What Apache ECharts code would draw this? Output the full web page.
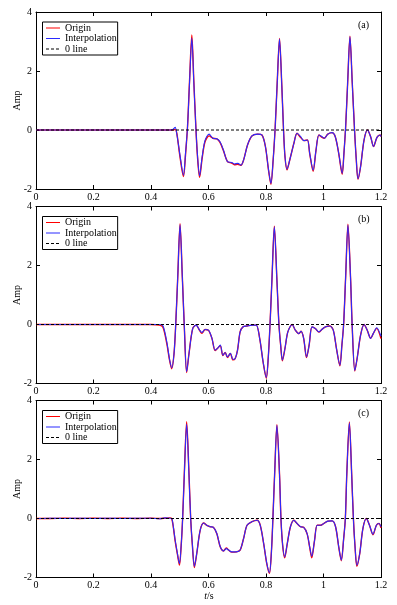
<!DOCTYPE html>
<html>
<head>
<meta charset="UTF-8">
<title>Origin vs Interpolation</title>
<script type="text/javascript" src="https://cdn.jsdelivr.net/npm/echarts@6/dist/echarts.min.js"></script>
<style>
  html, body { margin: 0; padding: 0; background: #fff; }
  #main { width: 397px; height: 605px; }
</style>
</head>
<body>
<div id="main"></div>
<script type="text/javascript">
// ---- data ----
var panelNames = ['(a)', '(b)', '(c)'];
var xTicks = [0, 0.2, 0.4, 0.6, 0.8, 1, 1.2];
var yTicks = [-2, 0, 2, 4];

var tA = [0, 0.1, 0.2, 0.3, 0.4, 0.45, 0.466, 0.476, 0.484, 0.49,
  0.5, 0.513, 0.52, 0.527, 0.534, 0.542, 0.549, 0.556, 0.562, 0.569,
  0.578, 0.588, 0.602, 0.615, 0.629, 0.64, 0.652, 0.666, 0.681, 0.69,
  0.702, 0.713, 0.722, 0.736, 0.751, 0.771, 0.786, 0.798, 0.809, 0.817,
  0.825, 0.832, 0.839, 0.847, 0.855, 0.861, 0.866, 0.873, 0.883, 0.897,
  0.908, 0.92, 0.932, 0.944, 0.952, 0.964, 0.974, 0.984, 0.995, 1.003,
  1.015, 1.03, 1.041, 1.053, 1.065, 1.071, 1.077, 1.084, 1.092, 1.1,
  1.108, 1.114, 1.12, 1.129, 1.141, 1.153, 1.164, 1.174, 1.186, 1.197,
  1.2];
var originA = [0, 0, 0, 0, 0, 0, 0, 0, 0.02, -0.12,
  -0.85, -1.58, -0.85, 0.1, 1.65, 3.22, 1.65, 0.1, -0.95, -1.6,
  -0.95, -0.4, -0.2, -0.28, -0.3, -0.42, -0.7, -1.07, -1.12, -1.18,
  -1.16, -1.2, -1.02, -0.5, -0.2, -0.14, -0.17, -0.56, -1.38, -1.84,
  -1.0, 0.1, 1.6, 3.1, 1.5, 0, -0.9, -1.35, -1.0, -0.45,
  -0.11, -0.25, -0.36, -0.34, -0.8, -1.4, -0.68, -0.17, -0.25, -0.28,
  -0.14, -0.09, -0.23, -0.8, -1.5, -0.8, 0.1, 1.6, 3.18, 1.6,
  0, -1.0, -1.67, -1.24, -0.34, 0, -0.23, -0.56, -0.25, -0.17,
  -0.22];
var interpA = [0, 0, 0, 0, 0, 0, 0, 0.02, 0.09, -0.15,
  -0.8, -1.53, -0.8, 0.1, 1.6, 3.12, 1.6, 0.1, -0.9, -1.55,
  -0.9, -0.35, -0.14, -0.28, -0.3, -0.4, -0.68, -1.07, -1.1, -1.15,
  -1.13, -1.19, -1.02, -0.5, -0.2, -0.14, -0.17, -0.56, -1.36, -1.81,
  -1.0, 0.1, 1.6, 3.08, 1.5, 0, -0.9, -1.33, -1.0, -0.45,
  -0.11, -0.22, -0.36, -0.34, -0.79, -1.36, -0.68, -0.17, -0.23, -0.28,
  -0.14, -0.09, -0.23, -0.79, -1.47, -0.8, 0.1, 1.6, 3.16, 1.6,
  0, -1.0, -1.65, -1.24, -0.34, 0, -0.23, -0.56, -0.25, -0.17,
  -0.22];

var tB = [0, 0.1, 0.2, 0.3, 0.4, 0.43, 0.442, 0.455, 0.464, 0.472,
  0.48, 0.486, 0.493, 0.501, 0.509, 0.516, 0.524, 0.532, 0.545, 0.557,
  0.569, 0.577, 0.588, 0.6, 0.612, 0.623, 0.631, 0.641, 0.65, 0.658,
  0.666, 0.676, 0.685, 0.693, 0.701, 0.71, 0.72, 0.734, 0.751, 0.766,
  0.778, 0.79, 0.801, 0.808, 0.814, 0.821, 0.829, 0.838, 0.845, 0.851,
  0.857, 0.866, 0.876, 0.891, 0.902, 0.914, 0.922, 0.931, 0.941, 0.95,
  0.96, 0.972, 0.984, 0.995, 1.007, 1.022, 1.034, 1.045, 1.057, 1.064,
  1.07, 1.077, 1.085, 1.094, 1.1, 1.109, 1.117, 1.129, 1.141, 1.152,
  1.164, 1.173, 1.185, 1.2];
var originB = [0, 0, 0, 0, 0, -0.02, -0.1, -0.65, -1.18, -1.5,
  -1.0, 0, 1.6, 3.42, 1.6, -0.1, -1.63, -1.0, -0.14, -0.02,
  -0.2, -0.3, -0.17, -0.2, -0.47, -0.88, -0.81, -0.72, -1.05, -0.95,
  -1.12, -0.98, -1.2, -1.15, -0.87, -0.25, -0.08, -0.05, -0.02, -0.02,
  -0.47, -1.28, -1.82, -1.1, 0, 1.6, 3.33, 1.5, 0, -0.7,
  -1.23, -0.81, -0.25, 0, -0.19, -0.31, -0.23, -0.47, -1.12, -0.7,
  -0.08, -0.14, -0.26, -0.16, -0.08, -0.05, -0.19, -0.81, -1.4, -0.7,
  0, 1.6, 3.4, 1.6, -0.1, -1.58, -1.15, -0.36, 0, -0.19,
  -0.47, -0.31, -0.13, -0.48];
var interpB = [0, 0, 0, 0, 0, 0, -0.05, -0.59, -1.15, -1.47,
  -1.0, 0, 1.6, 3.38, 1.6, -0.1, -1.6, -1.0, -0.14, -0.02,
  -0.19, -0.27, -0.17, -0.19, -0.47, -0.87, -0.81, -0.7, -1.04, -0.95,
  -1.1, -0.98, -1.18, -1.15, -0.87, -0.25, -0.08, -0.05, -0.02, -0.02,
  -0.47, -1.27, -1.8, -1.1, 0, 1.6, 3.31, 1.5, 0, -0.7,
  -1.21, -0.81, -0.25, 0, -0.19, -0.31, -0.23, -0.47, -1.1, -0.7,
  -0.08, -0.14, -0.25, -0.16, -0.08, -0.05, -0.19, -0.81, -1.38, -0.7,
  0, 1.6, 3.37, 1.6, -0.1, -1.56, -1.15, -0.36, 0, -0.19,
  -0.47, -0.31, -0.11, -0.4];

var tC = [0, 0.05, 0.1, 0.15, 0.2, 0.25, 0.3, 0.35, 0.4, 0.43,
  0.45, 0.465, 0.472, 0.478, 0.484, 0.492, 0.499, 0.505, 0.51, 0.516,
  0.524, 0.532, 0.538, 0.544, 0.551, 0.559, 0.571, 0.583, 0.594, 0.606,
  0.617, 0.629, 0.641, 0.652, 0.662, 0.67, 0.681, 0.697, 0.71, 0.722,
  0.734, 0.751, 0.769, 0.78, 0.792, 0.803, 0.812, 0.819, 0.824, 0.83,
  0.838, 0.847, 0.852, 0.858, 0.865, 0.874, 0.885, 0.897, 0.908, 0.92,
  0.931, 0.943, 0.952, 0.959, 0.969, 0.978, 0.99, 1.001, 1.015, 1.03,
  1.042, 1.053, 1.062, 1.07, 1.076, 1.081, 1.09, 1.098, 1.104, 1.11,
  1.116, 1.126, 1.137, 1.149, 1.16, 1.172, 1.184, 1.193, 1.2];
var originC = [0, 0, 0.01, 0, 0.01, 0, 0.01, 0, 0.01, 0,
  0.01, 0.02, 0, -0.32, -0.76, -1.22, -1.58, -0.92, 0, 1.55,
  3.28, 1.55, 0, -0.92, -1.66, -1.2, -0.4, -0.15, -0.23, -0.28,
  -0.3, -0.52, -0.97, -1.1, -1.0, -1.07, -1.14, -1.13, -1.07, -0.68,
  -0.23, -0.11, -0.06, -0.23, -0.86, -1.55, -1.86, -1.1, 0, 1.5,
  3.18, 1.5, 0, -0.92, -1.33, -0.85, -0.28, -0.06, -0.17, -0.28,
  -0.3, -0.52, -0.98, -1.33, -0.73, -0.23, -0.23, -0.17, -0.09, -0.08,
  -0.28, -0.97, -1.43, -0.7, 0, 1.5, 3.27, 1.5, 0, -1.0,
  -1.62, -1.19, -0.34, 0, -0.23, -0.55, -0.23, -0.17, -0.32];
var interpC = [0, 0.01, 0, 0.01, 0, 0.01, 0, 0.01, 0.01, -0.01,
  0.02, 0.01, 0, -0.3, -0.73, -1.19, -1.53, -0.9, 0, 1.5,
  3.2, 1.5, 0, -0.9, -1.62, -1.19, -0.4, -0.15, -0.23, -0.28,
  -0.3, -0.51, -0.96, -1.1, -1.02, -1.07, -1.13, -1.13, -1.07, -0.68,
  -0.23, -0.11, -0.06, -0.23, -0.85, -1.53, -1.83, -1.1, 0, 1.5,
  3.16, 1.5, 0, -0.9, -1.3, -0.85, -0.28, -0.06, -0.17, -0.28,
  -0.3, -0.51, -0.96, -1.28, -0.73, -0.23, -0.23, -0.17, -0.09, -0.08,
  -0.28, -0.96, -1.41, -0.7, 0, 1.5, 3.24, 1.5, 0, -1.0,
  -1.58, -1.19, -0.34, 0, -0.23, -0.53, -0.23, -0.17, -0.28];

var zeroLine = [[0, 0], [1.2, 0]];

// ---- layout ----
var FONT = '"Liberation Serif", "Times New Roman", serif';
var gridTops = [12, 206.5, 400.5];
var gridH = 177, gridLeft = 36, gridW = 345;

function zip(t, v) {
  var out = [];
  for (var i = 0; i < t.length; i++) out.push([t[i], v[i]]);
  return out;
}
function tickLabel(v) {
  return String(Math.round(v * 10) / 10);
}

var grids = [], xAxes = [], yAxes = [], legends = [], series = [], graphics = [];
var panels = [[tA, originA, interpA], [tB, originB, interpB], [tC, originC, interpC]];

for (var i = 0; i < 3; i++) {
  grids.push({ left: gridLeft, top: gridTops[i], width: gridW, height: gridH });
  var axisBase = {
    gridIndex: i, type: 'value',
    axisLine: { show: true, onZero: false, lineStyle: { color: '#000', width: 1 } },
    axisTick: { show: true, inside: true, length: 4, lineStyle: { color: '#000' } },
    splitLine: { show: false }
  };
  xAxes.push(Object.assign({}, axisBase, {
    position: 'bottom', min: xTicks[0], max: xTicks[xTicks.length - 1], interval: 0.2,
    axisLabel: { color: '#000', fontFamily: FONT, fontSize: 10, margin: 3, formatter: tickLabel,
      showMinLabel: true, showMaxLabel: true }
  }));
  xAxes.push(Object.assign({}, axisBase, {
    position: 'top', min: xTicks[0], max: xTicks[xTicks.length - 1], interval: 0.2,
    axisLabel: { show: false }
  }));
  yAxes.push(Object.assign({}, axisBase, {
    position: 'left', min: yTicks[0], max: yTicks[yTicks.length - 1], interval: 2,
    axisLabel: { color: '#000', fontFamily: FONT, fontSize: 10, margin: 4 }
  }));
  yAxes.push(Object.assign({}, axisBase, {
    position: 'right', min: yTicks[0], max: yTicks[yTicks.length - 1], interval: 2,
    axisLabel: { show: false }
  }));

  legends.push({
    orient: 'vertical', left: 42.5, top: gridTops[i] + 10,
    data: ['Origin', 'Interpolation', '0 line'],
    itemWidth: 14, itemHeight: 10, itemGap: 0.5, itemStyle: { opacity: 0 },
    lineStyle: { width: 1 },
    padding: [1, 1, 1, 3],
    borderColor: '#000', borderWidth: 1, backgroundColor: '#fff',
    textStyle: { color: '#000', fontFamily: FONT, fontSize: 10 },
    selectedMode: false
  });

  var p = panels[i];
  series.push({
    name: 'Origin', type: 'line', xAxisIndex: 2 * i, yAxisIndex: 2 * i,
    data: zip(p[0], p[1]), smooth: 0.3, symbol: 'none',
    lineStyle: { color: '#ff0000', width: 1.4 }, itemStyle: { color: '#ff0000' }, z: 2
  });
  series.push({
    name: 'Interpolation', type: 'line', xAxisIndex: 2 * i, yAxisIndex: 2 * i,
    data: zip(p[0], p[2]), smooth: 0.3, symbol: 'none',
    lineStyle: { color: '#2a2aff', width: 1.1 }, itemStyle: { color: '#2a2aff' }, z: 3
  });
  series.push({
    name: '0 line', type: 'line', xAxisIndex: 2 * i, yAxisIndex: 2 * i,
    data: zeroLine, symbol: 'none',
    lineStyle: { color: '#000', width: 1, type: [3, 2] }, itemStyle: { color: '#000' }, z: 4
  });

  graphics.push({
    type: 'text', left: 358, top: gridTops[i] + 8,
    style: { text: panelNames[i], fill: '#000', font: '10px ' + FONT }
  });
  graphics.push({
    type: 'text', x: 17, y: gridTops[i] + gridH / 2, rotation: Math.PI / 2,
    style: { text: 'Amp', fill: '#000', font: '10px ' + FONT, align: 'center', verticalAlign: 'middle' }
  });
}

graphics.push({
  type: 'text', x: 209, y: 596,
  style: {
    text: '{i|t}/s', fill: '#000', font: '10px ' + FONT, align: 'center', verticalAlign: 'middle',
    rich: { i: { fontStyle: 'italic', fontFamily: FONT, fontSize: 10 } }
  }
});

var myChart = echarts.init(document.getElementById('main'), null, { renderer: 'canvas' });
myChart.setOption({
  animation: false,
  backgroundColor: '#fff',
  grid: grids,
  xAxis: xAxes,
  yAxis: yAxes,
  legend: legends,
  series: series,
  graphic: graphics
});
</script>
</body>
</html>
